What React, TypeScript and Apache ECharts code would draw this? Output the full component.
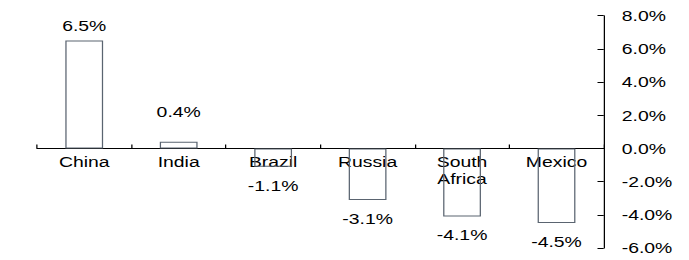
import React, { useEffect, useRef } from "react";
import * as echarts from "echarts";

const categories = ["China", "India", "Brazil", "Russia", "South\nAfrica", "Mexico"];
const values = [6.5, 0.4, -1.1, -3.1, -4.1, -4.5];
const yMin = -6;
const yMax = 8;
const yInterval = 2;

// label gap (px) between bar end and its value label, per bar
const labelGaps = [7, 22, 10.5, 10.5, 10.5, 10.5];

const STRETCH = 1.25;
const W = 689 / STRETCH;
const H = 260;
const GRID_TOP = 15.7;
const GRID_BOTTOM = 12;

export default function App() {
  const ref = useRef<HTMLDivElement>(null);
  useEffect(() => {
    if (!ref.current) return;
    const chart = echarts.init(ref.current, null, { renderer: "svg" });
    const font = "'Liberation Sans', Arial, sans-serif";
    const gridH = H - GRID_TOP - GRID_BOTTOM;
    const zeroOffset = -(gridH * (0 - yMin)) / (yMax - yMin);
    chart.setOption({
      animation: false,
      backgroundColor: "#ffffff",
      grid: {
        left: 37 / STRETCH,
        right: 85 / STRETCH,
        top: GRID_TOP,
        bottom: GRID_BOTTOM,
        containLabel: false,
        outerBoundsMode: "none",
      },
      xAxis: {
        type: "category",
        data: categories,
        boundaryGap: true,
        offset: zeroOffset,
        z: 0,
        axisLine: { onZero: false, lineStyle: { color: "#000", width: 1 } },
        axisTick: { show: true, inside: true, length: 4, lineStyle: { color: "#000" } },
        axisLabel: { color: "#000", fontSize: 15.5, fontFamily: font, margin: 5, lineHeight: 17, interval: 0 },
        splitLine: { show: false },
      },
      yAxis: {
        type: "value",
        position: "right",
        min: yMin,
        max: yMax,
        interval: yInterval,
        axisLine: { show: true, lineStyle: { color: "#000", width: 1 } },
        axisTick: { show: true, inside: true, length: 5, lineStyle: { color: "#000" } },
        axisLabel: {
          color: "#000",
          fontSize: 15.5,
          fontFamily: font,
          margin: 14.4,
          formatter: (v: number) => v.toFixed(1) + "%",
        },
        splitLine: { show: false },
      },
      series: [
        {
          type: "bar",
          barWidth: "40%",
          data: values.map((v, i) => ({
            value: v,
            label: { position: v >= 0 ? "top" : "bottom", distance: labelGaps[i] },
          })),
          itemStyle: { color: "rgba(255,255,255,0)", borderColor: "#5a6470", borderWidth: 1 },
          label: {
            show: true,
            color: "#000",
            fontSize: 15.5,
            fontFamily: font,
            formatter: (p: any) => p.value.toFixed(1) + "%",
          },
          z: 3,
        },
      ],
    });
    return () => chart.dispose();
  }, []);
  return (
    <div style={{ position: "absolute", left: 0, top: 0, width: 689, height: H, overflow: "hidden", background: "#fff" }}>
      <div
        ref={ref}
        style={{ width: W, height: H, transform: `scaleX(${STRETCH})`, transformOrigin: "0 0" }}
      />
    </div>
  );
}
